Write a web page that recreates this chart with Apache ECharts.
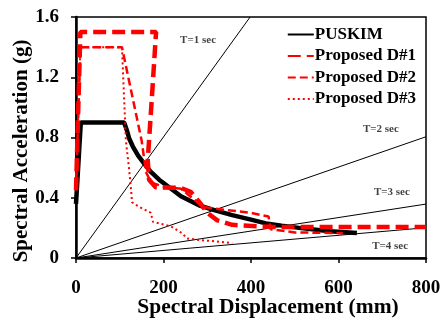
<!DOCTYPE html>
<html>
<head>
<meta charset="utf-8">
<script src="https://cdn.jsdelivr.net/npm/echarts@6/dist/echarts.min.js"></script>
<style>
html,body{margin:0;padding:0;background:#fff;}
#c{width:441px;height:323px;}
</style>
</head>
<body>
<div id="c"></div>
<script>
// Data: [Spectral Displacement (mm), Spectral Acceleration (g)]
const puskim = [[0,0.36],[11,0.9],[110,0.9],[116,0.85],[122,0.79],[130,0.74],[142,0.68],[155,0.63],[170,0.575],[190,0.52],[206,0.485],[240,0.41],[281,0.35],[320,0.315],[357,0.285],[400,0.255],[434,0.23],[470,0.215],[510,0.2],[580,0.178],[642,0.166]];
const proposedD1 = [[0,0.45],[10,1.5],[183,1.5],[172,1.0],[164,0.65],[167,0.52],[182,0.47],[240,0.465],[262,0.44],[285,0.36],[300,0.3],[323,0.25],[357,0.22],[450,0.206],[800,0.205]];
const proposedD2 = [[0,0.45],[10,1.4],[105,1.4],[150,0.78],[160,0.57],[172,0.5],[200,0.475],[240,0.46],[265,0.4],[290,0.34],[310,0.33],[400,0.3],[440,0.275],[445,0.19],[500,0.17],[610,0.165]];
const proposedD3 = [[0,0.45],[10,1.4],[105,1.4],[114,0.78],[121,0.6],[126,0.45],[128,0.37],[144,0.34],[171,0.3],[176,0.24],[217,0.21],[242,0.166],[254,0.13],[281,0.12],[357,0.1]];
// Constant-period lines (origin to plot edge)
const periodLines = [
  {name:'T=1 sec', pts:[[0,0],[398,1.6]], label:[279,1.447]},
  {name:'T=2 sec', pts:[[0,0],[800,0.805]], label:[697,0.857]},
  {name:'T=3 sec', pts:[[0,0],[800,0.358]], label:[722,0.438]},
  {name:'T=4 sec', pts:[[0,0],[800,0.201]], label:[718,0.08]}
];
const xTicks = {min:0, max:800, interval:200};
const yTicks = {min:0, max:1.6, interval:0.4};
const legendNames = ['PUSKIM','Proposed D#1','Proposed D#2','Proposed D#3'];

const FONT = '"Liberation Serif","Times New Roman",serif';
const chart = echarts.init(document.getElementById('c'), null, {renderer:'canvas'});

const series = [];
periodLines.forEach(p => {
  series.push({
    name:p.name, type:'line', data:p.pts, symbol:'none', silent:true, z:1,
    lineStyle:{color:'#000', width:1}
  });
  series.push({
    name:p.name+' label', type:'scatter', data:[p.label], symbolSize:0, silent:true, z:5,
    label:{show:true, position:'inside', formatter:p.name, color:'#111', fontFamily:FONT, fontWeight:'bold', fontSize:11}
  });
});
series.push({name:'PUSKIM', type:'line', data:puskim, symbol:'none', z:3,
  lineStyle:{color:'#000', width:4.5}});
series.push({name:'Proposed D#1', type:'line', data:proposedD1, symbol:'none', z:4,
  lineStyle:{color:'#ff0000', width:4.5, type:[13,6]}});
series.push({name:'Proposed D#2', type:'line', data:proposedD2, symbol:'none', z:4,
  lineStyle:{color:'#ff0000', width:2.5, type:[8,4]}});
series.push({name:'Proposed D#3', type:'line', data:proposedD3, symbol:'none', z:4,
  lineStyle:{color:'#ff0000', width:2, type:[2,3]}});

chart.setOption({
  animation:false,
  backgroundColor:'#fff',
  grid:{left:76, right:15, top:17, bottom:65, show:true, borderColor:'#000', borderWidth:1.5, containLabel:false, outerBoundsMode:'none'},
  legend:{
    data:legendNames, orient:'vertical', right:20, top:21,
    itemWidth:26, itemHeight:12, itemGap:4.5,
    itemStyle:{opacity:0},
    textStyle:{fontFamily:FONT, fontWeight:'bold', fontSize:17, lineHeight:17, color:'#000', padding:[0,0,0,-4]}
  },
  xAxis:{
    type:'value', min:xTicks.min, max:xTicks.max, interval:xTicks.interval,
    name:'Spectral Displacement (mm)', nameLocation:'middle', nameGap:38, nameMoveOverlap:false,
    nameTextStyle:{fontFamily:FONT, fontWeight:'bold', fontSize:21.5, color:'#000', padding:[0,0,0,34]},
    axisLine:{lineStyle:{color:'#000', width:2.5}},
    axisTick:{show:true, inside:false, length:5, lineStyle:{color:'#000', width:1.5}},
    axisLabel:{fontFamily:FONT, fontWeight:'bold', fontSize:19, color:'#000', margin:21},
    splitLine:{show:false}
  },
  yAxis:{
    type:'value', min:yTicks.min, max:yTicks.max, interval:yTicks.interval,
    name:'Spectral Acceleration (g)', nameLocation:'middle', nameGap:44, nameMoveOverlap:false,
    nameTextStyle:{fontFamily:FONT, fontWeight:'bold', fontSize:21, color:'#000', padding:[0,27,0,0]},
    axisLine:{lineStyle:{color:'#000', width:2.5}},
    axisTick:{show:true, inside:false, length:5, lineStyle:{color:'#000', width:1.5}},
    axisLabel:{fontFamily:FONT, fontWeight:'bold', fontSize:19, color:'#000', margin:17},
    splitLine:{show:false}
  },
  series:series
});
</script>
</body>
</html>
